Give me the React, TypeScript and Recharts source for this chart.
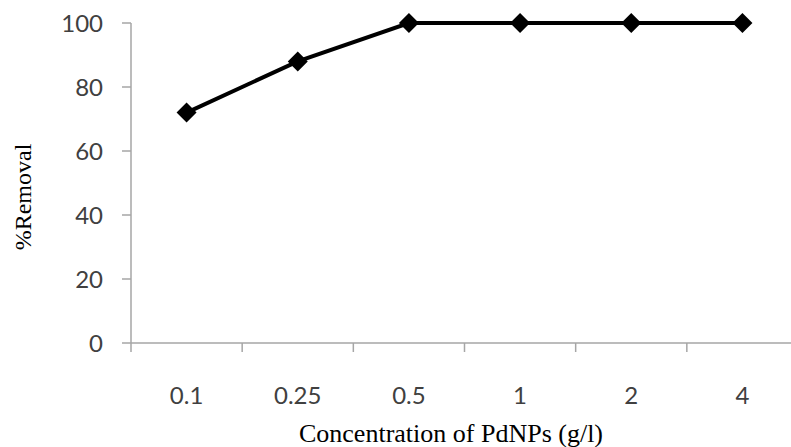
import { LineChart, Line, XAxis, YAxis, Label } from 'recharts';

const concentrations = ['0.1', '0.25', '0.5', '1', '2', '4'];
const removal = [72, 88, 100, 100, 100, 100];
const yTicks = [0, 20, 40, 60, 80, 100];

const data = concentrations.map((c, i) => ({ conc: c, removal: removal[i] }));

const axisGray = '#a6a6a6';
const tickFont = { fontFamily: 'Lato, "Open Sans", sans-serif', fontSize: 24, fill: '#404040' };
const titleFont = { fontFamily: '"Liberation Serif", "DejaVu Serif", serif', fill: '#000' };

// Excel-style category axis: tick marks sit between categories
const XTick = (props: any) => {
  const { x, y, payload, width } = props;
  const band = width / concentrations.length;
  return (
    <g>
      <line x1={x - band / 2} x2={x - band / 2} y1={y} y2={y + 9} stroke={axisGray} strokeWidth={1.5} />
      <text x={x} y={y + 51} textAnchor="middle" dominantBaseline="central" {...tickFont}>
        {payload.value}
      </text>
    </g>
  );
};

const Diamond = (props: any) => {
  const { cx, cy } = props;
  if (cx == null || cy == null) return null;
  const r = 10;
  return <path d={`M${cx},${cy - r}L${cx + r},${cy}L${cx},${cy + r}L${cx - r},${cy}Z`} fill="#000" />;
};

export default function App() {
  return (
    <div style={{ width: 791, height: 447, overflow: 'hidden', background: '#fff' }}>
      <style>{'body{margin:0}'}</style>
      <LineChart width={798} height={447} data={data} margin={{ top: 23, right: 0, bottom: 0, left: 0 }}>
        <XAxis
          dataKey="conc"
          scale="band"
          height={104}
          tickSize={0}
          tickMargin={0}
          tickLine={false}
          axisLine={{ stroke: axisGray, strokeWidth: 1.5 }}
          tick={<XTick />}
          interval={0}
        >
          <Label
            content={() => (
              <text x={451} y={442} textAnchor="middle" fontSize={26} {...titleFont}>
                Concentration of PdNPs (g/l)
              </text>
            )}
          />
        </XAxis>
        <YAxis
          width={131}
          domain={[0, 100]}
          ticks={yTicks}
          interval={0}
          tickSize={9}
          tickMargin={19}
          tickLine={{ stroke: axisGray, strokeWidth: 1.5 }}
          axisLine={{ stroke: axisGray, strokeWidth: 1.5 }}
          tick={tickFont}
        >
          <Label
            content={() => (
              <text
                x={23}
                y={197}
                transform="rotate(-90 23 197)"
                textAnchor="middle"
                dominantBaseline="central"
                fontSize={24}
                {...titleFont}
              >
                %Removal
              </text>
            )}
          />
        </YAxis>
        <Line
          type="linear"
          dataKey="removal"
          stroke="#000"
          strokeWidth={4}
          dot={<Diamond />}
          activeDot={false}
          isAnimationActive={false}
        />
      </LineChart>
    </div>
  );
}
